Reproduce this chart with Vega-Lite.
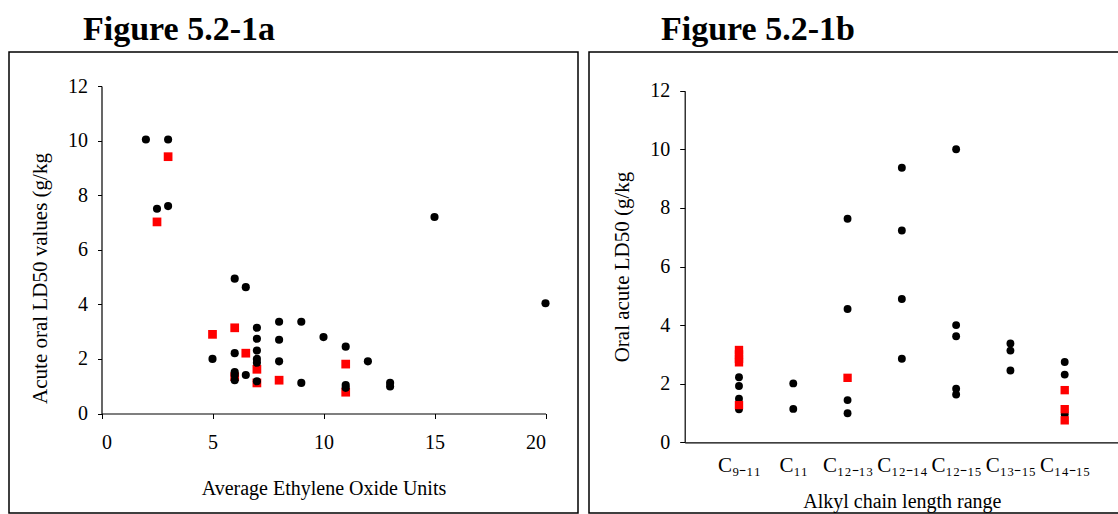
{
  "$schema": "https://vega.github.io/schema/vega-lite/v6.json",
  "padding": {"left": 8, "top": 12, "right": 0, "bottom": 0},
  "spacing": 9,
  "config": {
    "view": {"stroke": "#000000", "strokeWidth": 1.5},
    "font": "Liberation Serif",
    "axis": {
      "labelFont": "Liberation Serif",
      "titleFont": "Liberation Serif",
      "labelFontSize": 20,
      "titleFontSize": 20,
      "titleFontWeight": "normal",
      "labelColor": "#000000",
      "titleColor": "#000000",
      "domainColor": "#000000",
      "tickColor": "#000000",
      "domainWidth": 1.2,
      "grid": false,
      "tickSize": 5
    },
    "title": {"font": "Liberation Serif", "fontSize": 34, "fontWeight": "bold", "anchor": "start", "color": "#000000"}
  },
  "hconcat": [
    {
      "width": 569,
      "height": 461,
      "title": {"text": "Figure 5.2-1a", "dx": 74, "offset": 5},
      "data": {"values": [
        {"eo": 2, "ld50": 10.04, "s": "b"},
        {"eo": 3, "ld50": 10.04, "s": "b"},
        {"eo": 2.5, "ld50": 7.5, "s": "b"},
        {"eo": 3, "ld50": 7.6, "s": "b"},
        {"eo": 6, "ld50": 4.94, "s": "b"},
        {"eo": 6.5, "ld50": 4.63, "s": "b"},
        {"eo": 7, "ld50": 3.14, "s": "b"},
        {"eo": 8, "ld50": 3.36, "s": "b"},
        {"eo": 9, "ld50": 3.36, "s": "b"},
        {"eo": 7, "ld50": 2.74, "s": "b"},
        {"eo": 8, "ld50": 2.7, "s": "b"},
        {"eo": 10, "ld50": 2.8, "s": "b"},
        {"eo": 11, "ld50": 2.45, "s": "b"},
        {"eo": 6, "ld50": 2.21, "s": "b"},
        {"eo": 7, "ld50": 2.31, "s": "b"},
        {"eo": 5, "ld50": 2.0, "s": "b"},
        {"eo": 7, "ld50": 2.0, "s": "b"},
        {"eo": 7, "ld50": 1.86, "s": "b"},
        {"eo": 8, "ld50": 1.91, "s": "b"},
        {"eo": 12, "ld50": 1.91, "s": "b"},
        {"eo": 6, "ld50": 1.52, "s": "b"},
        {"eo": 6, "ld50": 1.41, "s": "b"},
        {"eo": 6, "ld50": 1.22, "s": "b"},
        {"eo": 6.5, "ld50": 1.41, "s": "b"},
        {"eo": 7, "ld50": 1.18, "s": "b"},
        {"eo": 9, "ld50": 1.12, "s": "b"},
        {"eo": 11, "ld50": 1.04, "s": "b"},
        {"eo": 11, "ld50": 0.94, "s": "b"},
        {"eo": 13, "ld50": 1.12, "s": "b"},
        {"eo": 13, "ld50": 0.99, "s": "b"},
        {"eo": 15, "ld50": 7.2, "s": "b"},
        {"eo": 20, "ld50": 4.04, "s": "b"},
        {"eo": 3, "ld50": 9.41, "s": "r"},
        {"eo": 2.5, "ld50": 7.02, "s": "r"},
        {"eo": 5, "ld50": 2.9, "s": "r"},
        {"eo": 6, "ld50": 3.14, "s": "r"},
        {"eo": 6.5, "ld50": 2.21, "s": "r"},
        {"eo": 7, "ld50": 1.62, "s": "r"},
        {"eo": 11, "ld50": 1.81, "s": "r"},
        {"eo": 6, "ld50": 1.35, "s": "r"},
        {"eo": 7, "ld50": 1.12, "s": "r"},
        {"eo": 8, "ld50": 1.22, "s": "r"},
        {"eo": 11, "ld50": 0.78, "s": "r"}
      ]},
      "encoding": {
        "x": {"field": "eo", "type": "quantitative",
              "scale": {"domain": [0, 20], "range": [92.5, 536.5], "nice": false, "zero": false},
              "axis": {"title": "Average Ethylene Oxide Units", "values": [0, 5, 10, 15, 20], "offset": -99.5, "labelPadding": 14, "titlePadding": 26}},
        "y": {"field": "ld50", "type": "quantitative",
              "scale": {"domain": [0, 12], "range": [361.5, 34], "nice": false, "zero": false},
              "axis": {"title": "Acute oral LD50 values (g/kg", "values": [0, 2, 4, 6, 8, 10, 12], "offset": -92.5, "tickSize": 4, "labelPadding": 10, "titlePadding": 17, "titleFontSize": 21, "titleY": 226}}
      },
      "layer": [
        {"transform": [{"filter": "datum.s === 'r'"}],
         "mark": {"type": "point", "shape": "square", "filled": true, "size": 76, "color": "#ff0000", "opacity": 1}},
        {"transform": [{"filter": "datum.s === 'b'"}],
         "mark": {"type": "circle", "size": 66, "color": "#000000", "opacity": 1}}
      ]
    },
    {
      "width": 531,
      "height": 461,
      "title": {"text": "Figure 5.2-1b", "dx": 72, "offset": 5},
      "data": {"values": [
        {"chain": "C₉₋₁₁", "ld50": 2.22, "s": "b"},
        {"chain": "C₉₋₁₁", "ld50": 1.92, "s": "b"},
        {"chain": "C₉₋₁₁", "ld50": 1.49, "s": "b"},
        {"chain": "C₉₋₁₁", "ld50": 1.13, "s": "b"},
        {"chain": "C₁₁", "ld50": 2.01, "s": "b"},
        {"chain": "C₁₁", "ld50": 1.14, "s": "b"},
        {"chain": "C₁₂₋₁₃", "ld50": 7.63, "s": "b"},
        {"chain": "C₁₂₋₁₃", "ld50": 4.55, "s": "b"},
        {"chain": "C₁₂₋₁₃", "ld50": 1.44, "s": "b"},
        {"chain": "C₁₂₋₁₃", "ld50": 0.99, "s": "b"},
        {"chain": "C₁₂₋₁₄", "ld50": 9.37, "s": "b"},
        {"chain": "C₁₂₋₁₄", "ld50": 7.23, "s": "b"},
        {"chain": "C₁₂₋₁₄", "ld50": 4.89, "s": "b"},
        {"chain": "C₁₂₋₁₄", "ld50": 2.85, "s": "b"},
        {"chain": "C₁₂₋₁₅", "ld50": 10.0, "s": "b"},
        {"chain": "C₁₂₋₁₅", "ld50": 4.0, "s": "b"},
        {"chain": "C₁₂₋₁₅", "ld50": 3.62, "s": "b"},
        {"chain": "C₁₂₋₁₅", "ld50": 1.83, "s": "b"},
        {"chain": "C₁₂₋₁₅", "ld50": 1.63, "s": "b"},
        {"chain": "C₁₃₋₁₅", "ld50": 3.37, "s": "b"},
        {"chain": "C₁₃₋₁₅", "ld50": 3.13, "s": "b"},
        {"chain": "C₁₃₋₁₅", "ld50": 2.45, "s": "b"},
        {"chain": "C₁₄₋₁₅", "ld50": 2.74, "s": "b"},
        {"chain": "C₁₄₋₁₅", "ld50": 2.31, "s": "b"},
        {"chain": "C₁₄₋₁₅", "ld50": 0.96, "s": "b"},
        {"chain": "C₉₋₁₁", "ld50": 3.15, "s": "r"},
        {"chain": "C₉₋₁₁", "ld50": 3.0, "s": "r"},
        {"chain": "C₉₋₁₁", "ld50": 2.85, "s": "r"},
        {"chain": "C₉₋₁₁", "ld50": 2.73, "s": "r"},
        {"chain": "C₉₋₁₁", "ld50": 1.27, "s": "r"},
        {"chain": "C₁₂₋₁₃", "ld50": 2.2, "s": "r"},
        {"chain": "C₁₄₋₁₅", "ld50": 1.78, "s": "r"},
        {"chain": "C₁₄₋₁₅", "ld50": 1.13, "s": "r"},
        {"chain": "C₁₄₋₁₅", "ld50": 0.75, "s": "r"}
      ]},
      "encoding": {
        "x": {"field": "chain", "type": "nominal",
              "scale": {"type": "point", "domain": ["C₉₋₁₁", "C₁₁", "C₁₂₋₁₃", "C₁₂₋₁₄", "C₁₂₋₁₅", "C₁₃₋₁₅", "C₁₄₋₁₅"], "range": [95.7, 530], "padding": 1},
              "axis": {"title": "Alkyl chain length range", "offset": -70.7, "ticks": false, "labelAngle": 0, "labelPadding": 12, "titlePadding": 16, "labelFontSize": 21}},
        "y": {"field": "ld50", "type": "quantitative",
              "scale": {"domain": [0, 12], "range": [390.3, 38.7], "nice": false, "zero": false},
              "axis": {"title": "Oral acute LD50 (g/kg", "values": [0, 2, 4, 6, 8, 10, 12], "offset": -95.7, "tickSize": 5, "labelPadding": 10, "titlePadding": 17, "titleFontSize": 21}}
      },
      "layer": [
        {"transform": [{"filter": "datum.s === 'b'"}],
         "mark": {"type": "circle", "size": 62, "color": "#000000", "opacity": 1}},
        {"transform": [{"filter": "datum.s === 'r'"}],
         "mark": {"type": "point", "shape": "square", "filled": true, "size": 70, "color": "#ff0000", "opacity": 1}}
      ]
    }
  ]
}
